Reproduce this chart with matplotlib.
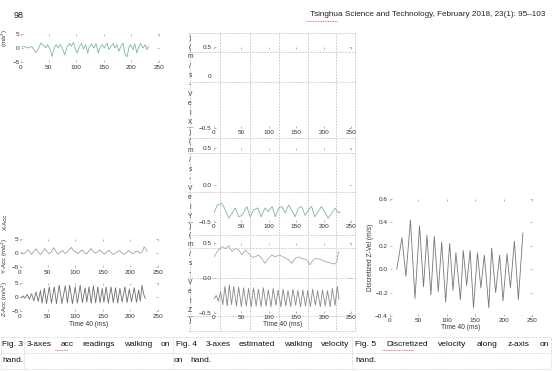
import numpy as np
import matplotlib.pyplot as plt

plt.rcParams['font.family'] = ['Liberation Sans', 'DejaVu Sans']
plt.rcParams['axes.unicode_minus'] = True

W, H = 554, 371

# Fig. 3 - acc readings (sample index, m/s^2)
x_acc_t = [2, 6, 10, 15, 19, 23, 27, 32, 36, 41, 45, 48, 53, 56, 61, 64, 67, 71, 76, 79,
           84, 88, 91, 95, 99, 102, 106, 110, 113, 117, 121, 124, 128, 132, 136, 140, 144,
           147, 151, 156, 159, 163, 167, 170, 174, 177, 181, 185, 188, 192, 196, 199, 203,
           206, 210, 214, 217, 221, 225, 228, 231]
x_acc_v = [0.4, 0.6, 0.0, 0.2, 0.6, -0.4, -1.6, 0.0, 1.8, 0.8, 0.0, 1.2, -0.6, -3.0, 0.4,
           1.2, 0.0, 1.2, -0.6, -2.4, 0.6, 1.6, 0.6, 2.0, -0.6, -1.8, 0.6, 1.6, -0.4, 1.2,
           -1.8, 0.6, 1.4, 0.0, 1.6, -1.8, 0.4, 1.2, 0.0, 1.8, -0.6, 0.6, 1.6, 0.0, 1.2,
           -1.2, 0.6, 1.8, -1.8, -3.2, 0.6, 1.2, -0.6, 1.6, -1.8, 0.8, 1.6, 0.0, 1.2, -0.6, 0.6]

y_acc_t = [2, 6, 10, 14, 18, 21, 25, 29, 33, 37, 41, 45, 49, 53, 57, 61, 65, 69, 73, 77,
           81, 85, 89, 93, 97, 101, 105, 109, 113, 117, 121, 125, 129, 133, 137, 141, 145,
           149, 153, 157, 161, 165, 169, 173, 177, 181, 185, 189, 193, 197, 201, 205, 209,
           213, 217, 221, 225, 228, 230]
y_acc_v = [0.3, -0.3, 0.2, 1.2, 0.3, -0.5, 0.6, 1.5, 0.2, -0.6, 0.4, 1.6, 0.5, -0.3, 0.5,
           1.9, 0.6, -0.4, 0.2, 1.0, -0.2, 0.3, 1.1, 2.0, 0.8, 0.4, -0.2, 0.6, 1.1, 0.0,
           -0.3, 0.8, 1.6, 0.4, -0.1, 0.6, 1.1, 0.2, -0.4, 0.3, 1.0, 0.1, -0.5, 0.0, 0.6,
           0.8, -0.2, -0.4, 0.2, 0.9, 0.1, -0.3, 0.5, 0.7, -0.1, 0.3, 2.2, 1.4, 0.6]

z_acc_t = [2, 5, 9, 13, 17, 21, 25, 29, 33, 37, 40, 44, 48, 53, 57, 62, 66, 71, 76, 82,
           86, 90, 95, 100, 104, 109, 113, 118, 121, 125, 129, 133, 137, 141, 145, 149,
           152, 156, 160, 165, 169, 173, 177, 181, 185, 190, 194, 198, 202, 207, 211, 215,
           218, 221, 224, 227]
z_acc_v = [-0.3, 0.4, -0.4, 0.9, -0.8, 1.2, -1.4, 1.8, -1.6, 2.3, -2.2, 3.1, -2.3, 3.6,
           -2.2, 3.6, -2.4, 4.2, -2.3, 4.0, -2.1, 4.2, -2.4, 3.6, -2.2, 4.2, -2.0, 3.3, -1.8,
           3.6, -2.2, 4.0, -2.1, 3.6, -2.0, 3.1, -1.9, 3.6, -2.2, 3.6, -2.0, 3.3, -2.1, 3.1,
           -1.8, 3.6, -2.0, 2.8, -1.7, 3.3, -1.9, 2.5, -1.5, 4.2, 1.0, -0.5]

# Fig. 4 - estimated velocity (m/s)
y_vel_t = [0, 6, 14, 19, 27, 33, 39, 45, 51, 60, 66, 72, 80, 86, 93, 99, 106, 112, 118,
           124, 130, 136, 142, 148, 154, 160, 166, 172, 178, 184, 190, 196, 202, 208, 215,
           221, 227, 230]
y_vel_v = [-0.38, -0.27, -0.25, -0.31, -0.45, -0.38, -0.31, -0.43, -0.41, -0.29, -0.43,
           -0.34, -0.31, -0.43, -0.31, -0.36, -0.29, -0.43, -0.31, -0.29, -0.38, -0.27,
           -0.34, -0.43, -0.31, -0.29, -0.41, -0.34, -0.29, -0.43, -0.36, -0.29, -0.36,
           -0.45, -0.38, -0.31, -0.38, -0.36]

vel_a_t = [0, 6, 15, 21, 27, 33, 39, 45, 51, 57, 63, 69, 75, 81, 87, 93, 99, 106, 112,
           118, 127, 136, 142, 148, 154, 160, 169, 175, 181, 187, 196, 205, 215, 221, 224, 227]
vel_a_v = [0.30, 0.38, 0.45, 0.42, 0.46, 0.38, 0.42, 0.40, 0.33, 0.40, 0.35, 0.30, 0.30,
           0.33, 0.28, 0.21, 0.28, 0.33, 0.30, 0.33, 0.30, 0.26, 0.21, 0.28, 0.30, 0.28,
           0.26, 0.19, 0.26, 0.28, 0.26, 0.23, 0.21, 0.20, 0.23, 0.38]

vel_b_t = [0, 4, 8, 12, 16, 20, 24, 28, 32, 36, 41, 45, 50, 54, 59, 63, 68, 72, 77, 81,
           86, 90, 95, 99, 104, 108, 113, 117, 122, 126, 131, 135, 140, 144, 149, 153, 158,
           162, 167, 171, 176, 180, 185, 189, 194, 198, 203, 207, 212, 216, 221, 225, 228]
vel_b_v = [-0.30, -0.25, -0.33, -0.20, -0.38, -0.12, -0.40, -0.10, -0.38, -0.12, -0.40,
           -0.13, -0.41, -0.14, -0.40, -0.15, -0.41, -0.14, -0.40, -0.16, -0.41, -0.14,
           -0.40, -0.17, -0.41, -0.15, -0.39, -0.17, -0.41, -0.16, -0.40, -0.18, -0.41,
           -0.16, -0.39, -0.18, -0.41, -0.17, -0.40, -0.18, -0.41, -0.16, -0.39, -0.18,
           -0.41, -0.17, -0.40, -0.18, -0.41, -0.15, -0.39, -0.12, -0.30]

# Fig. 5 - discretized z velocity (m/s)
z_disc_t = [12, 21, 28, 36, 44, 52, 59, 65, 72, 78, 85, 91, 98, 105, 111, 116, 124, 129,
            135, 141, 147, 154, 160, 166, 174, 179, 186, 193, 199, 206, 212, 219, 226, 234]
z_disc_v = [0.0, 0.27, -0.06, 0.42, -0.25, 0.37, -0.15, 0.29, -0.22, 0.28, -0.19, 0.23,
            -0.28, 0.22, -0.18, 0.14, -0.26, 0.16, -0.14, 0.16, -0.33, 0.14, -0.16, 0.12,
            -0.33, 0.18, -0.20, 0.12, -0.27, 0.13, -0.16, 0.24, -0.26, 0.31]

time_ticks = [0, 50, 100, 150, 200, 250]

fig = plt.figure(figsize=(W / 100, H / 100), dpi=100)
bg = fig.add_axes([0, 0, 1, 1])
bg.set_xlim(0, W)
bg.set_ylim(H, 0)
bg.axis('off')


def px_axes(x0, x1, ytop, ybot, xpad=1.5, ypad=1.5):
    ax = fig.add_axes([x0 / W, 1 - ybot / H, (x1 - x0) / W, (ybot - ytop) / H])
    ax.patch.set_visible(False)
    for s in ax.spines.values():
        s.set_visible(False)
    ax.tick_params(direction='in', length=1.3, width=0.5, color='#9a9a9a', labelsize=4.6,
                   labelcolor='#333333', top=True, right=True)
    ax.tick_params(axis='x', pad=xpad)
    ax.tick_params(axis='y', pad=ypad)
    ax.set_xlim(0, 250)
    ax.set_xticks(time_ticks)
    return ax


dash = dict(color='#c4c4c4', lw=0.6, ls=(0, (2, 1.5)))
dot = dict(color='#c4c4c4', lw=0.5, ls=(0, (1, 1)))
red = dict(color='#e04040', lw=0.6, ls=(0, (1, 1)))
lab = dict(fontsize=4.4, rotation=90, ha='center', va='center', color='#333333')

# header
bg.text(14, 15, '98', fontsize=6.5, va='center', color='#222222')
bg.text(545, 15, 'Tsinghua Science and Technology, February 2018, 23(1): 95\u2013103',
        fontsize=5.9, va='center', ha='right', color='#222222')
bg.plot([306, 337], [21, 21], **red)

# Fig. 3 panels
ax = px_axes(21, 159, 34, 62, xpad=2.4, ypad=1.0)
ax.plot(x_acc_t, x_acc_v, color='#7fb89f', lw=0.6)
ax.set_ylim(-5, 5)
ax.set_yticks([-5, 0, 5])
bg.text(5, 38, '(m/s$^2$)', **lab)
bg.text(5, 222, 'X-Acc', **lab)

ax = px_axes(20, 158, 239, 267, xpad=2.4, ypad=1.0)
ax.plot(y_acc_t, y_acc_v, color='#a2a2a2', lw=0.6)
ax.set_ylim(-5, 5)
ax.set_yticks([-5, 0, 5])
bg.text(5, 256, 'Y-Acc (m/s$^2$)', **lab)

ax = px_axes(20, 158, 283, 311, xpad=2.4, ypad=1.0)
ax.plot(z_acc_t, z_acc_v, color='#6e6e6e', lw=0.6)
ax.set_ylim(-5, 5)
ax.set_yticks([-5, 0, 5])
ax.set_xlabel('Time 40 (ms)', fontsize=4.8, labelpad=1, color='#333333')
bg.text(5, 299, 'Z-Acc (m/s$^2$)', **lab)

# Fig. 4 dashed frame
for xv in [190, 220, 250, 279, 308, 336, 355]:
    bg.plot([xv, xv], [33, 331], **dash)
for yv in [33, 52, 82, 138, 153, 192, 235, 248, 278, 316, 331]:
    bg.plot([188, 356], [yv, yv], **dash)

vel_chars = list(')(m/s-VelX)(m/s-VelY)(m/s-VelZ)')
for c, yv in zip(vel_chars, np.linspace(38, 320, len(vel_chars))):
    bg.text(190, yv, c, fontsize=4.8, ha='center', va='center', color='#3a3a4a')
for yv in [122, 217, 311]:
    bg.plot([187, 193], [yv + 5, yv + 5], **red)

ax = px_axes(214, 351, 47, 128)
ax.set_ylim(-0.5, 0.5)
ax.set_yticks([-0.5, 0.5])
bg.text(211, 77, '0', fontsize=4.6, ha='right', va='center', color='#333333')

ax = px_axes(214, 351, 148, 222)
ax.plot(y_vel_t, y_vel_v, color='#7fb89f', lw=0.6)
ax.set_ylim(-0.5, 0.5)
ax.set_yticks([-0.5, 0, 0.5])

ax = px_axes(214, 351, 243, 313)
ax.plot(vel_a_t, vel_a_v, color='#a8a8a8', lw=0.6)
ax.plot(vel_b_t, vel_b_v, color='#888888', lw=0.6)
ax.set_ylim(-0.5, 0.5)
ax.set_yticks([-0.5, 0, 0.5])
ax.set_xlabel('Time 40 (ms)', fontsize=4.8, labelpad=1, color='#333333')

# Fig. 5
ax = px_axes(390, 532, 199, 316)
ax.plot(z_disc_t, z_disc_v, color='#777777', lw=0.6)
ax.set_ylim(-0.4, 0.6)
ax.set_yticks([-0.4, -0.2, 0, 0.2, 0.4, 0.6])
ax.set_xlabel('Time 40 (ms)', fontsize=4.8, labelpad=1, color='#333333')
ax.set_ylabel('Discretized Z-Vel (m/s)', fontsize=4.8, labelpad=1, color='#333333')

# captions
for yv in [337, 353, 369]:
    bg.plot([1, 551], [yv, yv], **dot)
for xv in [1, 24, 173, 352, 551]:
    bg.plot([xv, xv], [337, 369], **dot)

renderer = fig.canvas.get_renderer()
cap = dict(fontsize=6.0, va='center', color='#111111')


def justify(words, x0, x1, y):
    texts = [bg.text(0, y, w, **cap) for w in words]
    widths = [t.get_window_extent(renderer).width for t in texts]
    gap = (x1 - x0 - sum(widths)) / (len(words) - 1)
    x = x0
    for t, w in zip(texts, widths):
        t.set_x(x)
        x += w + gap


bg.text(2, 345, 'Fig. 3', **cap)
justify(['3-axes', 'acc', 'readings', 'walking', 'on'], 27, 170, 345)
justify(['Fig. 4', '3-axes', 'estimated', 'walking', 'velocity'], 176, 349, 345)
justify(['Fig. 5', 'Discretized', 'velocity', 'along', 'z-axis', 'on'], 355, 549, 345)
bg.text(2, 361, 'hand.', **cap)
bg.text(174, 361, 'on', **cap)
bg.text(190, 361, 'hand.', **cap)
bg.text(355, 361, 'hand.', **cap)
bg.plot([55, 68], [350, 350], **red)
bg.plot([382, 414], [350, 350], **red)

fig.savefig('out.png', dpi=100)
